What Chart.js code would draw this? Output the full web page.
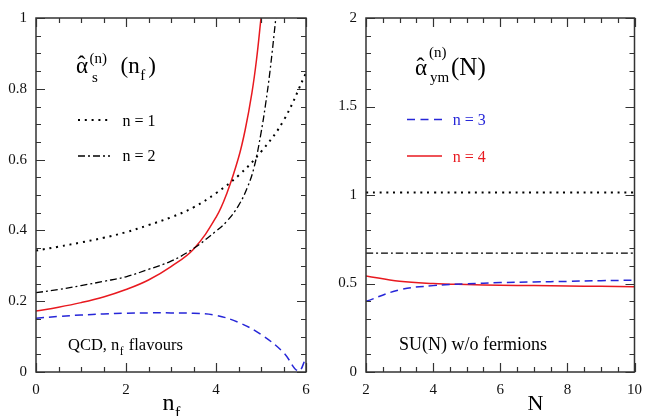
<!DOCTYPE html>
<html><head><meta charset="utf-8">
<script src="https://cdn.jsdelivr.net/npm/chart.js@4/dist/chart.umd.min.js"></script>
<style>
html,body{margin:0;padding:0;background:#fff;width:651px;height:416px;overflow:hidden}
#cl{position:absolute;left:0;top:0}
#cr{position:absolute;left:330px;top:0}
</style></head><body>
<canvas id="cl" width="330" height="416"></canvas>
<canvas id="cr" width="321" height="416"></canvas>
<script>
// ---------- Left panel: QCD, n_f flavours ----------
const nfN1 = [0,0.5,1,1.5,2,2.5,3,3.5,4,4.5,5,5.5,6];
const qcdN1 = [0.343,0.354,0.366,0.379,0.395,0.415,0.437,0.465,0.505,0.555,0.622,0.71,0.845];
const nfN2 = [0,0.5,1,1.5,2,2.5,3,3.5,4,4.25,4.5,4.7,4.85,5.0,5.1,5.2,5.33];
const qcdN2 = [0.224,0.233,0.244,0.256,0.269,0.29,0.313,0.349,0.398,0.427,0.47,0.522,0.58,0.675,0.755,0.85,1.0];
const nfN3 = [0,0.5,1,1.5,2,2.5,3,3.5,4,4.5,5,5.5,5.83,6];
const qcdN3 = [0.152,0.157,0.161,0.164,0.166,0.167,0.167,0.166,0.16,0.14,0.106,0.055,0.003,0.04];
const nfN4 = [0,0.5,1,1.5,2,2.5,3,3.5,4,4.25,4.5,4.65,4.8,4.9,5.0];
const qcdN4 = [0.172,0.183,0.196,0.212,0.233,0.26,0.298,0.347,0.437,0.508,0.605,0.685,0.79,0.882,1.0];
const leftXTicks = [0,2,4,6];
const leftYTicks = [0,0.2,0.4,0.6,0.8,1];

// ---------- Right panel: SU(N) w/o fermions ----------
const NA = [2,3,4,5,6,7,8,9,10];
const ymN1 = [1.014,1.014,1.014,1.014,1.014,1.014,1.014,1.014,1.014];
const ymN2 = [0.672,0.672,0.672,0.672,0.672,0.672,0.672,0.672,0.672];
const ymN3 = [0.399,0.464,0.488,0.498,0.505,0.509,0.512,0.516,0.519];
const ymN4 = [0.543,0.513,0.500,0.494,0.490,0.488,0.486,0.484,0.482];
const rightXTicks = [2,4,6,8,10];
const rightYTicks = [0,0.5,1,1.5,2];

const RED = '#e8191f', BLUE = '#2626d8', BLACK = '#000';
const SERIF = "'Liberation Serif', 'Times New Roman', serif";
Chart.defaults.font.family = SERIF;
Chart.defaults.font.size = 15;
Chart.defaults.color = '#111';

function pts(xs, ys){ return xs.map((x,i)=>({x:x, y:ys[i]})); }
function ds(xs, ys, color, dash, width){
  return {data: pts(xs,ys), borderColor: color, borderWidth: width, borderDash: dash,
          pointRadius: 0, fill: false, tension: 0.4, borderCapStyle: 'butt'};
}

function framePlugin(xMinor, yMinor){
  return {id:'frame', afterDatasetsDraw(chart){
    const ctx = chart.ctx, a = chart.chartArea, x = chart.scales.x, y = chart.scales.y;
    const xMaj = x.ticks.map(t=>t.value), yMaj = y.ticks.map(t=>t.value);
    const isMaj = (v, arr)=>arr.some(m=>Math.abs(m-v)<1e-6);
    ctx.save();
    ctx.strokeStyle = '#333'; ctx.lineWidth = 1.5; ctx.setLineDash([]);
    ctx.strokeRect(a.left, a.top, a.right-a.left, a.bottom-a.top);
    ctx.lineWidth = 1.2;
    ctx.beginPath();
    const nx = Math.round((x.max-x.min)/xMinor);
    for (let i=0;i<=nx;i++){
      const v = x.min + i*xMinor, p = Math.round(x.getPixelForValue(v))+0.5;
      const L = isMaj(v,xMaj)?9:5;
      ctx.moveTo(p,a.bottom); ctx.lineTo(p,a.bottom-L);
      ctx.moveTo(p,a.top); ctx.lineTo(p,a.top+L);
    }
    const ny = Math.round((y.max-y.min)/yMinor);
    for (let i=0;i<=ny;i++){
      const v = y.min + i*yMinor, p = Math.round(y.getPixelForValue(v))+0.5;
      const L = isMaj(v,yMaj)?9:5;
      ctx.moveTo(a.left,p); ctx.lineTo(a.left+L,p);
      ctx.moveTo(a.right,p); ctx.lineTo(a.right-L,p);
    }
    ctx.stroke();
    ctx.restore();
  }};
}

function txt(ctx, s, x, y, size, color, align){
  ctx.font = size+'px '+SERIF; ctx.fillStyle = color||'#000';
  ctx.textAlign = align||'left'; ctx.textBaseline = 'alphabetic';
  ctx.fillText(s, x, y);
  return x + ctx.measureText(s).width;
}
function sample(ctx, x1, x2, y, color, dash, w){
  ctx.save(); ctx.strokeStyle = color; ctx.lineWidth = w; ctx.setLineDash(dash);
  ctx.beginPath(); ctx.moveTo(x1,y); ctx.lineTo(x2,y); ctx.stroke(); ctx.restore();
}

function scalesCfg(xmin,xmax,xticks,ymin,ymax,yticks){
  const tickFont = {family: SERIF, size: 15};
  const fmt = v => String(Math.round(v*1000)/1000);
  return {
    x: {type:'linear', min:xmin, max:xmax,
        afterBuildTicks(s){ s.ticks = xticks.map(v=>({value:v})); },
        ticks:{font:tickFont, color:'#111', padding:9, maxRotation:0, autoSkip:false, callback:fmt},
        grid:{display:false, drawTicks:false}, border:{display:false},
        afterFit(s){ s.height = 44; }},
    y: {type:'linear', min:ymin, max:ymax,
        afterBuildTicks(s){ s.ticks = yticks.map(v=>({value:v})); },
        ticks:{font:tickFont, color:'#111', padding:9, autoSkip:false, callback:fmt},
        grid:{display:false, drawTicks:false}, border:{display:false},
        afterFit(s){ s.width = 36; }}
  };
}

const common = {responsive:false, animation:false, events:[],
  plugins:{legend:{display:false}, tooltip:{enabled:false}}};

// Left chart
new Chart(document.getElementById('cl'), {
  type:'line',
  data:{datasets:[
    ds(nfN1, qcdN1, BLACK, [2,4.8], 2),
    ds(nfN2, qcdN2, BLACK, [7,3,2,3], 1.3),
    ds(nfN3, qcdN3, BLUE, [8,5], 1.5),
    ds(nfN4, qcdN4, RED, [], 1.5)
  ]},
  options: Object.assign({}, common, {
    layout:{padding:{top:11, right:24, bottom:0, left:0}},
    scales: scalesCfg(0,6,leftXTicks,0,1,leftYTicks)
  }),
  plugins:[framePlugin(0.5,0.05), {id:'labels', afterDraw(chart){
    const ctx = chart.ctx; ctx.save();
    // title
    txt(ctx,'\u03b1',76,73,23);
    txt(ctx,'\u02c6',81.5,72,24,'#000','center');
    txt(ctx,'(n)',89.5,63,15);
    txt(ctx,'s',92,82,15);
    let e = txt(ctx,'(n',120.5,73,23);
    e = txt(ctx,'f',e+0.5,80,15);
    txt(ctx,')',e+3,73,23);
    // legend
    sample(ctx,78,110,120,BLACK,[2,4.8],2);
    txt(ctx,'n = 1',122.5,125.5,16);
    sample(ctx,78,110,156,BLACK,[7,3,2,3],1.3);
    txt(ctx,'n = 2',122.5,161,16);
    // annotation
    e = txt(ctx,'QCD, n',68,350,16.5);
    e = txt(ctx,'f',e+0.5,355,11.5);
    txt(ctx,' flavours',e+1,350,16.5);
    // axis title
    e = txt(ctx,'n',162.5,410,24);
    txt(ctx,'f',e+0.5,418,16);
    ctx.restore();
  }}]
});

// Right chart (canvas offset 330)
new Chart(document.getElementById('cr'), {
  type:'line',
  data:{datasets:[
    ds(NA, ymN1, BLACK, [2,4.8], 2),
    ds(NA, ymN2, BLACK, [7,3,2,3], 1.3),
    ds(NA, ymN3, BLUE, [8,5], 1.5),
    ds(NA, ymN4, RED, [], 1.5)
  ]},
  options: Object.assign({}, common, {
    layout:{padding:{top:11, right:14.3, bottom:0, left:0}},
    scales: scalesCfg(2,10,rightXTicks,0,2,rightYTicks)
  }),
  plugins:[framePlugin(0.5,0.1), {id:'labels', afterDraw(chart){
    const ctx = chart.ctx; ctx.save();
    const o = 330;
    txt(ctx,'\u03b1',415-o,75,23);
    txt(ctx,'\u02c6',420.5-o,74,24,'#000','center');
    txt(ctx,'(n)',429-o,57,15);
    txt(ctx,'ym',430-o,82,15);
    txt(ctx,'(N)',451-o,75,25);
    sample(ctx,407-o,442-o,119.5,BLUE,[8,5.5],1.5);
    txt(ctx,'n = 3',452.7-o,125,16,BLUE);
    sample(ctx,407-o,442-o,156,RED,[],1.5);
    txt(ctx,'n = 4',452.7-o,161.5,16,RED);
    txt(ctx,'SU(N) w/o fermions',399-o,350,18);
    txt(ctx,'N',527.5-o,410,22);
    ctx.restore();
  }}]
});
</script>
</body></html>
